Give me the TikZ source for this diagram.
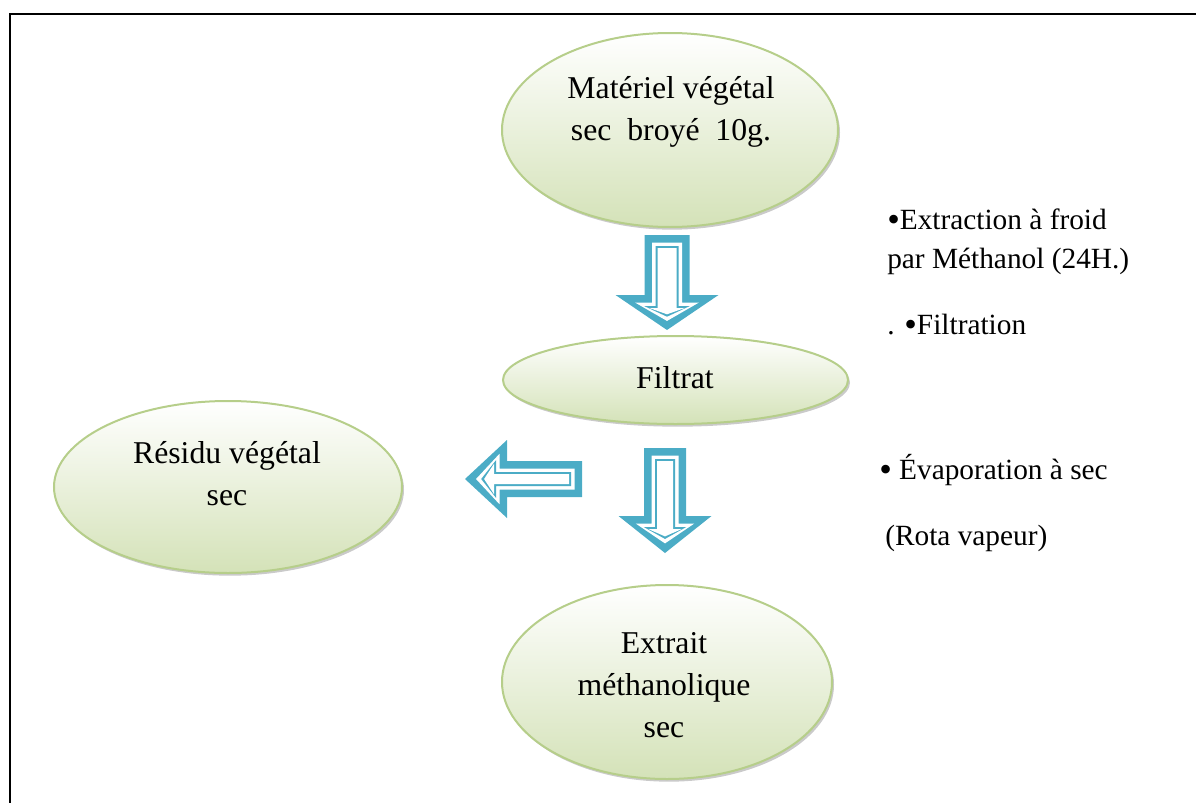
\documentclass[tikz,border=0pt]{standalone}
\usepackage{fontspec}
\setmainfont{Liberation Serif}
\usepackage{tikz}
\usetikzlibrary{shapes.geometric, shadows, positioning}
\definecolor{leafGreen}{RGB}{212,226,184}
\definecolor{leafEdge}{RGB}{182,206,138}
\definecolor{arrowBlue}{RGB}{75,172,198}
% larger bullet, as in the steps text
\newcommand{\BigDot}{\raisebox{-1.5pt}{\fontsize{27}{27}\selectfont\textbullet}}
% hollow block arrow pointing down, tail at the origin
% #1 shaft half width, #2 head half width, #3 length, #4 head length
\newcommand{\BlockArrow}[4]{%
  \foreach \inset/\clr in {0/arrowBlue,7.5/white,11/arrowBlue,13/white}{
    \pgfmathsetmacro{\hx}{#2-0.8*\inset*(#2+veclen(#2,#4))/#4}
    \pgfmathsetmacro{\tipy}{#3-\inset*veclen(#2,#4)/#2}
    \pgfmathsetmacro{\sy}{#3-#4+\inset}
    \fill[\clr] (-#1+\inset,\inset) -- (#1-\inset,\inset) -- (#1-\inset,\sy) -- (\hx,\sy)
      -- (0,\tipy) -- (-\hx,\sy) -- (-#1+\inset,\sy) -- cycle;
  }%
}
\tikzset{
  blob/.style={ellipse, draw=leafEdge, line width=1.5pt, top color=white, bottom color=leafGreen,
    drop shadow={shadow xshift=1.5pt, shadow yshift=-2pt, fill=black!60, opacity=.35}},
  blobtext/.style={font=\fontsize{23.8}{31.5}\selectfont, align=center, inner sep=0pt, anchor=base},
  note/.style={font=\fontsize{22}{29}\selectfont, inner sep=0pt, anchor=base west}
}

\begin{document}
\begin{tikzpicture}[x=0.75pt, y=-0.75pt]
        \useasboundingbox (0,0) rectangle (1196,803);
        % frame, only top and left edges show
        \draw[line width=1.5pt] (10,803) -- (10,14) -- (1196,14);
        % ellipses
        \node[blob, minimum width=252pt, minimum height=145.5pt] (mat) at (670,130) {};
        \node[blob, minimum width=258.75pt, minimum height=66pt] (fil) at (675.5,380) {};
        \node[blob, minimum width=261pt, minimum height=129pt] (res) at (228,487) {};
        \node[blob, minimum width=247.5pt, minimum height=145.5pt] (ext) at (667,682) {};
        % texts in the ellipses (base = last line)
        \node[blobtext] (matText) at (671,140) {Matériel végétal\\sec\ \ broyé\ \ 10g.};
        \node[blobtext] (filText) at (675,388) {Filtrat};
        \node[blobtext] (resText) at (227,505) {Résidu végétal\\sec};
        \node[blobtext] (extText) at (664,737) {Extrait\\méthanolique\\sec};
        % block arrows
        \begin{scope}[shift={(667,235)}]
          \BlockArrow{22.5}{51.5}{95}{35}
        \end{scope}
        \begin{scope}[shift={(665,448)}]
          \BlockArrow{21}{46.5}{105}{37}
        \end{scope}
        \begin{scope}[shift={(582,479)}, rotate=-90]
          \BlockArrow{18}{39}{117}{42}
        \end{scope}
        % steps on the right
        \node[note] (stepA) at (887,229) {\BigDot Extraction à froid};
        \node[note] (stepB) at (887,268) {par Méthanol (24H.)};
        \node[note] (stepC) at (887,334) {. \BigDot Filtration};
        \node[note] (stepD) at (879,479) {\BigDot\ Évaporation à sec};
        \node[note] (stepE) at (885,545) {(Rota vapeur)};
\end{tikzpicture}
\end{document}
